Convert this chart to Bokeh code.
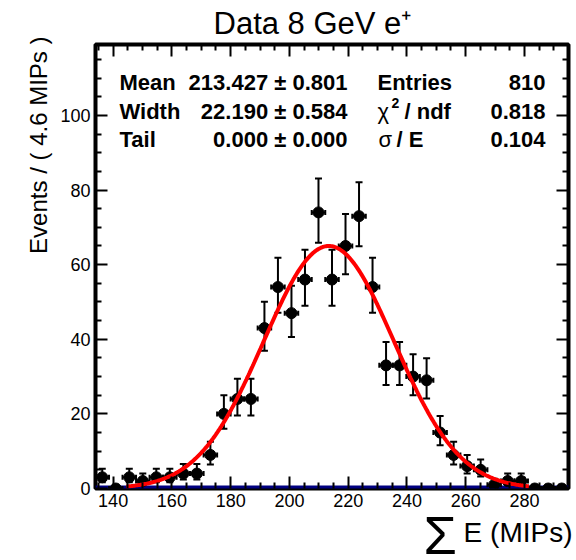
import numpy as np
from bokeh.plotting import figure
from bokeh.models import (ColumnDataSource, Label, LinearAxis, Range1d, FixedTicker,
                          CustomJSTickFormatter, Title)
from bokeh.core.properties import value
from bokeh.embed import file_html
from bokeh.resources import INLINE

# ---------------- data ----------------
title_text = "Data 8 GeV e\u207a"
x_title = "E (MIPs)"
x_title_sym = "\u03a3"
y_title = "Events / ( 4.6 MIPs )"

bin_lo = 134.0
bin_hi = 295.0
bin_width = 4.6
counts = [3, 0, 3, 2, 3, 3, 4, 4, 9, 20, 24, 24, 43, 54, 47, 56, 74, 56,
          65, 73, 54, 33, 33, 30, 29, 15, 9, 6, 5, 1, 2, 2, 0, 0, 0]

fit_mean = 213.427
fit_width = 22.190
fit_peak = 65.0
fit_lo = 144.5
fit_hi = 281.5

x_ticks = [140, 160, 180, 200, 220, 240, 260, 280]
y_ticks = [0, 20, 40, 60, 80, 100]
y_max = 119.0

stat_names = ["Mean", "Width", "Tail"]
stat_values = ["213.427 \u00b1 0.801", "22.190 \u00b1 0.584", "0.000 \u00b1 0.000"]
info_values = ["810", "0.818", "0.104"]

# ---------------- figure ----------------
W, H = 576, 560
FL, FR, FT, FB = 95, 568, 44, 488  # frame pixel box
FONT = "Liberation Sans"

p = figure(width=W, height=H, output_backend="svg", toolbar_location=None,
           x_range=Range1d(bin_lo, bin_hi), y_range=Range1d(0, y_max),
           min_border_left=FL, min_border_right=W - FR,
           min_border_top=FT, min_border_bottom=H - FB)
p.grid.visible = False
p.outline_line_color = "black"
p.outline_line_width = 4
p.background_fill_color = "white"
p.border_fill_color = "white"

xminor = [v for v in range(135, 295, 5) if v not in x_ticks]
yminor = [v for v in range(0, 120, 5) if v not in y_ticks]


def style_axis(ax, labels=True):
    ax.axis_line_color = None
    ax.major_tick_in = 12
    ax.major_tick_out = 0
    ax.minor_tick_in = 6
    ax.minor_tick_out = 0
    ax.major_tick_line_width = 2
    ax.minor_tick_line_width = 2
    ax.major_tick_line_color = "black"
    ax.minor_tick_line_color = "black"
    ax.major_label_text_font = FONT
    ax.major_label_text_color = "black"
    if labels:
        ax.major_label_text_font_size = "18px"
        ax.major_label_standoff = 5
    else:
        ax.formatter = CustomJSTickFormatter(code="return ''")
        ax.major_label_text_font_size = "1px"
        ax.major_label_standoff = 0


p.xaxis.ticker = FixedTicker(ticks=x_ticks, minor_ticks=xminor)
p.yaxis.ticker = FixedTicker(ticks=y_ticks, minor_ticks=yminor)
style_axis(p.xaxis[0])
style_axis(p.yaxis[0])

ax_top = LinearAxis(ticker=FixedTicker(ticks=x_ticks, minor_ticks=xminor))
style_axis(ax_top, labels=False)
p.add_layout(ax_top, "above")
ax_right = LinearAxis(ticker=FixedTicker(ticks=y_ticks, minor_ticks=yminor))
style_axis(ax_right, labels=False)
p.add_layout(ax_right, "right")

# titles in side panels
p.title.text = title_text
p.title.text_font = FONT
p.title.text_font_size = "31px"
p.title.text_font_style = "normal"
p.title.text_color = "black"
p.title.align = "left"
p.title.offset = 118
p.title.standoff = 7

ytitle = Title(text=y_title, text_font=FONT, text_font_size="24px",
               text_font_style="normal", text_color="black",
               align="right", offset=-8, standoff=11)
p.add_layout(ytitle, "left")

xtitle = Title(text=x_title, text_font=FONT, text_font_size="28px",
               text_font_style="normal", text_color="black",
               align="right", offset=-4, standoff=10)
p.add_layout(xtitle, "below")

# ---------------- data points ----------------
n = np.array(counts, dtype=float)
centers = bin_lo + bin_width * (np.arange(len(counts)) + 0.5)
err_up = n + np.sqrt(n + 0.25) + 0.5
err_lo = np.where(n > 0, n - np.sqrt(n + 0.25) + 0.5, 0.0)

src = ColumnDataSource(dict(x=centers, y=n, lo=err_lo, hi=err_up,
                            xl=centers - bin_width / 2, xr=centers + bin_width / 2))

# zero line
p.line([bin_lo, bin_hi], [0, 0], line_color="#000080", line_width=6)

p.segment(x0="x", y0="lo", x1="x", y1="hi", source=src, line_color="black", line_width=2)
p.scatter(x="x", y="hi", source=src, marker="dash", size=7, line_color="black", line_width=2)
p.scatter(x="x", y="lo", source=src, marker="dash", size=7, line_color="black", line_width=2)
p.segment(x0="xl", y0="y", x1="xr", y1="y", source=src, line_color="black", line_width=2)
p.scatter(x="xl", y="y", source=src, marker="dash", angle=np.pi / 2, size=5,
          line_color="black", line_width=2)
p.scatter(x="xr", y="y", source=src, marker="dash", angle=np.pi / 2, size=5,
          line_color="black", line_width=2)
p.scatter(x="x", y="y", source=src, marker="circle", size=11,
          fill_color="black", line_color="black")

# fit curve
xs = np.linspace(fit_lo, fit_hi, 400)
ys = fit_peak * np.exp(-0.5 * ((xs - fit_mean) / fit_width) ** 2)
p.line(xs, ys, line_color="red", line_width=4)


# ---------------- stats texts (screen units, relative to frame bottom-left) ----------------
def lab(px, py, text, size, align="left", bold=False):
    p.add_layout(Label(x=px - FL, y=FB - py, x_units="screen", y_units="screen",
                       text=text, text_font=FONT,
                       text_font_size=f"{size}px", text_align=align,
                       text_baseline="alphabetic",
                       text_font_style="bold" if bold else "normal",
                       text_color="black"))


rows_y = [81.5, 110.5, 139.0]
for i in range(3):
    lab(119, rows_y[i], stat_names[i], 22, bold=True)
    lab(347, rows_y[i], stat_values[i], 22, align="right", bold=True)
    lab(545, rows_y[i], info_values[i], 22, align="right", bold=True)

lab(377, rows_y[0], "Entries", 22, bold=True)
lab(377, rows_y[1], "\u03c7", 22)
lab(391, rows_y[1] - 8, "2", 14, bold=True)
lab(404, rows_y[1], "/ ndf", 22, bold=True)
lab(378, rows_y[2], "\u03c3", 22)
lab(396, rows_y[2], "/ E", 22, bold=True)

# big sigma of the x title: text glyph on the overlay level (outside the frame)
sig_x = bin_lo + (423 - FL) / (FR - FL) * (bin_hi - bin_lo)
sig_y = (FB - 534.0) / (FB - FT) * y_max
p.text(x=[sig_x], y=[sig_y], text=[x_title_sym], text_font=value(FONT),
       text_font_size="54px", text_baseline="alphabetic", text_align="left",
       text_color="black", level="overlay")

open("out.html", "w").write(file_html(p, INLINE))
